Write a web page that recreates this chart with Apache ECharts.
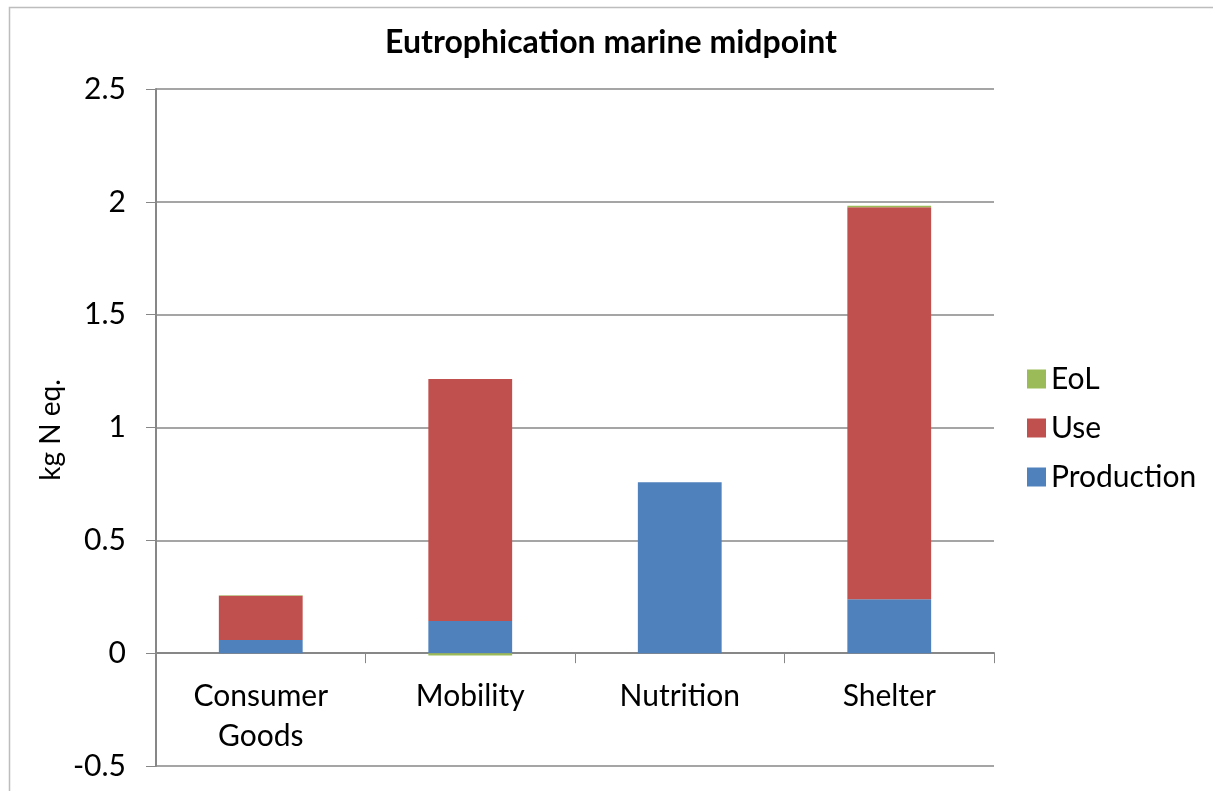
<!DOCTYPE html>
<html>
<head>
<meta charset="utf-8">
<script src="https://cdn.jsdelivr.net/npm/echarts@6/dist/echarts.min.js"></script>
<style>
  html, body { margin: 0; padding: 0; background: #fff; }
  #chart { width: 1213px; height: 791px; }
</style>
</head>
<body>
<div id="chart"></div>
<script>
// Marine eutrophication midpoint per consumption domain (kg N eq.)
const categories = ['Consumer\nGoods', 'Mobility', 'Nutrition', 'Shelter'];
const production = [0.058, 0.142, 0.757, 0.239];
const use = [0.196, 1.073, 0, 1.737];
const eol = [0.003, -0.010, 0, 0.007];
const yTicks = { min: -0.5, max: 2.5, interval: 0.5 };

const FONT = 'Lato, "Liberation Sans", sans-serif';
const AXIS_GREY = '#878787';

const chart = echarts.init(document.getElementById('chart'), null, { renderer: 'canvas' });

function barSeries(name, data, color) {
  return {
    name: name,
    type: 'bar',
    stack: 'total',
    data: data,
    barCategoryGap: '60%',
    itemStyle: { color: color },
    emphasis: { disabled: true }
  };
}

chart.setOption({
  animation: false,
  textStyle: { fontFamily: FONT },
  title: {
    text: 'Eutrophication marine midpoint',
    left: 606,
    top: 22,
    textAlign: 'center',
    textStyle: { fontFamily: FONT, fontWeight: 'bold', fontSize: 32, color: '#000' }
  },
  grid: { left: 156, right: 219, top: 89, bottom: 25, containLabel: false, outerBoundsMode: 'none' },
  legend: {
    orient: 'vertical',
    left: 1022,
    top: 359,
    itemWidth: 19,
    itemHeight: 19,
    itemGap: 19,
    icon: 'rect',
    data: ['EoL', 'Use', 'Production'],
    textStyle: { fontFamily: FONT, fontSize: 30, color: '#000' },
    selectedMode: false
  },
  xAxis: {
    type: 'category',
    data: categories,
    axisLine: { onZero: true, lineStyle: { color: AXIS_GREY, width: 2 } },
    axisTick: { show: true, length: 10, lineStyle: { color: AXIS_GREY, width: 1 } },
    // labels sit just under the zero line rather than the bottom of the plot
    axisLabel: { fontFamily: FONT, fontSize: 30, color: '#000', margin: -90, lineHeight: 40, interval: 0 },
    splitLine: { show: false }
  },
  yAxis: {
    type: 'value',
    min: yTicks.min,
    max: yTicks.max,
    interval: yTicks.interval,
    axisLine: { show: true, lineStyle: { color: AXIS_GREY, width: 2 } },
    axisTick: { show: true, length: 10, lineStyle: { color: AXIS_GREY, width: 1 } },
    axisLabel: { fontFamily: FONT, fontSize: 30, color: '#000', margin: 30 },
    splitLine: { show: true, lineStyle: { color: AXIS_GREY, width: 1.5 } }
  },
  graphic: [
    {
      type: 'rect',
      left: 7, top: 5,
      shape: { width: 1220, height: 800 },
      style: { fill: 'none', stroke: '#bdbdbd', lineWidth: 1.5 },
      silent: true
    },
    {
      type: 'text',
      x: 51, y: 430,
      rotation: Math.PI / 2,
      style: {
        text: 'kg N eq.',
        font: '28px ' + FONT,
        fill: '#000',
        align: 'center',
        verticalAlign: 'middle'
      },
      silent: true
    }
  ],
  series: [
    barSeries('Production', production, '#4F81BD'),
    barSeries('Use', use, '#C0504D'),
    barSeries('EoL', eol, '#9BBB59')
  ]
});
</script>
</body>
</html>
